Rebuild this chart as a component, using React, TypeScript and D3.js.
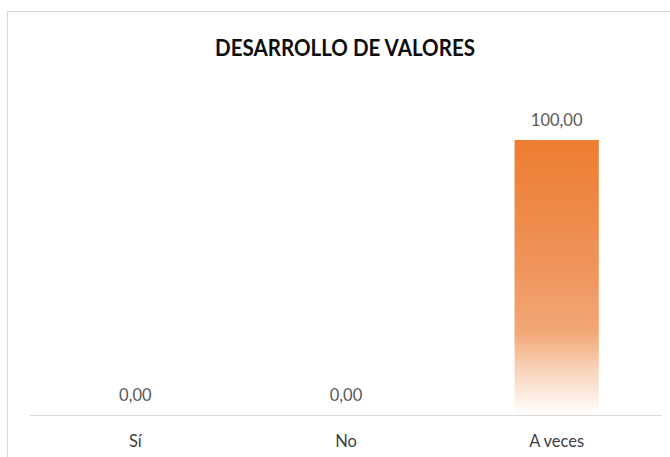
import React from "react";
import * as d3 from "d3";

const categories = ["Sí", "No", "A veces"];
const values = [0, 0, 100];
const valueLabels = ["0,00", "0,00", "100,00"];
const title = "DESARROLLO DE VALORES";

const W = 670;
const H = 457;

export default function App() {
  const x = d3.scaleBand<string>().domain(categories).range([30, 662]).padding(0);
  const y = d3.scaleLinear().domain([0, 100]).range([415, 140]);
  const barW = x.bandwidth() * 0.4;
  const font = "Lato, 'Open Sans', sans-serif";
  return (
    <svg
      width={W}
      height={H}
      style={{ position: "absolute", left: 0, top: 0, background: "#fff" }}
      fontFamily={font}
    >
      <defs>
        <linearGradient id="barGrad" x1="0" y1="0" x2="0" y2="1">
          <stop offset="0" stopColor="#ED7D31" />
          <stop offset="0.45" stopColor="#EF935A" />
          <stop offset="0.7" stopColor="#F2A876" />
          <stop offset="0.82" stopColor="#F7CFB3" />
          <stop offset="1" stopColor="#FFFFFF" />
        </linearGradient>
      </defs>
      <rect x={7.5} y={11.5} width={W + 20} height={H + 20} fill="#fff" stroke="#D9D9D9" strokeWidth={1} />
      <text x={345} y={56} textAnchor="middle" fontSize={23.5} fontWeight="bold" fill="#0D0D0D" textLength={260} lengthAdjust="spacingAndGlyphs">
        {title}
      </text>
      {categories.map((c, i) => {
        const cx = (x(c) as number) + x.bandwidth() / 2;
        const top = y(values[i]);
        return (
          <g key={c}>
            {values[i] > 0 && (
              <rect x={cx - barW / 2} y={top} width={barW} height={y(0) - top} fill="url(#barGrad)" />
            )}
            <text x={cx} y={top - 14} textAnchor="middle" fontSize={16.5} fill="#595959">
              {valueLabels[i]}
            </text>
            <text x={cx} y={447} textAnchor="middle" fontSize={16.5} fill="#404040">
              {c}
            </text>
          </g>
        );
      })}
      <line x1={30} x2={662} y1={415.5} y2={415.5} stroke="#D9D9D9" strokeWidth={1} />
    </svg>
  );
}
